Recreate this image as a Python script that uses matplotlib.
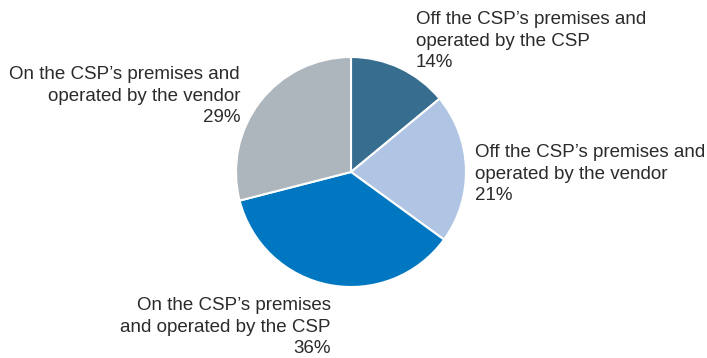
import matplotlib
matplotlib.use("Agg")
import matplotlib.pyplot as plt

plt.rcParams['font.family'] = ['Liberation Sans', 'DejaVu Sans']

labels = [
    "Off the CSP\u2019s premises and\noperated by the CSP",
    "Off the CSP\u2019s premises and\noperated by the vendor",
    "On the CSP\u2019s premises\nand operated by the CSP",
    "On the CSP\u2019s premises and\noperated by the vendor",
]
shares = [14, 21, 36, 29]
colors = ["#376E8F", "#AFC5E3", "#0077C0", "#ADB5BD"]

W, H = 707, 358
fig = plt.figure(figsize=(W / 100, H / 100), dpi=100)

cx, cy, r = 351, 172, 115
ax = fig.add_axes([(cx - r) / W, (H - cy - r) / H, 2 * r / W, 2 * r / H])
ax.pie(shares, colors=colors, startangle=90, counterclock=False,
       wedgeprops=dict(edgecolor="white", linewidth=1.5))
ax.set_xlim(-1, 1)
ax.set_ylim(-1, 1)
ax.set_aspect("equal")
ax.axis("off")

# label anchor (pixel x, pixel y of block top) and alignment
anchors = [(416, 11, "left"), (475, 144, "left"), (331, 297, "right"), (240, 66, "right")]
for text, val, (x, y, ha) in zip(labels, shares, anchors):
    fig.text(x / W, 1 - y / H, f"{text}\n{val}%", ha=ha, va="top",
             multialignment=ha, fontsize=13.5, color="#2b2b2b", linespacing=1.36)

fig.savefig("out.png", dpi=100)
